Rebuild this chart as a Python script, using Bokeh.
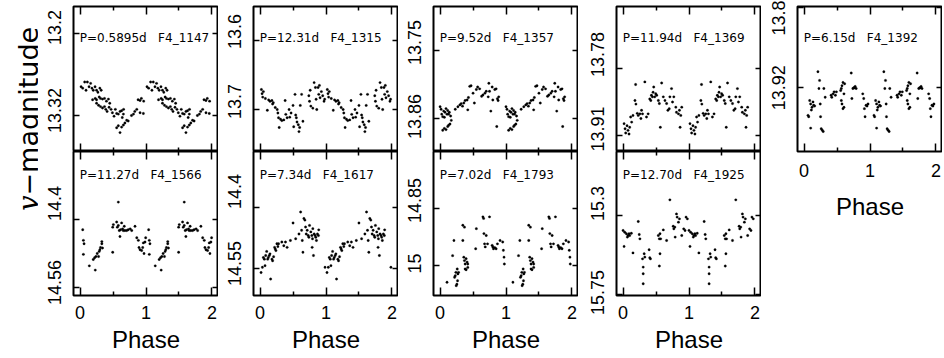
import math
from bokeh.plotting import figure
from bokeh.layouts import row, column
from bokeh.models import (Range1d, FixedTicker, LinearAxis, Label, ColumnDataSource,
                          CustomJSTickFormatter, CustomLabelingPolicy)
from bokeh.core.properties import value
from bokeh.embed import file_html
from bokeh.resources import INLINE

# ------------------------------------------------------------------ data
star_ids = ["F4_1147", "F4_1315", "F4_1357", "F4_1369", "F4_1392",
            "F4_1566", "F4_1617", "F4_1793", "F4_1925"]
periods = ["0.5895d", "12.31d", "9.52d", "11.94d", "6.15d",
           "11.27d", "7.34d", "7.02d", "12.70d"]
y_tick_values = [[13.2, 13.32], [13.6, 13.7], [13.75, 13.86], [13.78, 13.91],
                 [13.8, 13.92], [14.4, 14.56], [14.4, 14.55], [14.85, 15.0],
                 [15.3, 15.75]]
y_tick_labels = [["13.2", "13.32"], ["13.6", "13.7"], ["13.75", "13.86"],
                 ["13.78", "13.91"], ["13.8", "13.92"], ["14.4", "14.56"],
                 ["14.4", "14.55"], ["14.85", "15"], ["15.3", "15.75"]]
x_tick_values = [0, 1, 2]
x_minor_ticks = [0.5, 1.5]
x_title = "Phase"
y_title_symbol = "v"
y_title_rest = "\u2212magnitude"

f4_1147_phase = [0.015, 0.04, 0.07, 0.09, 0.11, 0.136, 0.16, 0.18, 0.20, 0.227, 0.25, 0.27, 0.30, 0.32,
                 0.19, 0.23, 0.25, 0.29, 0.31, 0.34, 0.37, 0.40, 0.43, 0.45,
                 0.25, 0.28, 0.31, 0.34, 0.37, 0.39, 0.41, 0.44, 0.47, 0.49, 0.515, 0.535, 0.555, 0.58, 0.606, 0.63, 0.657, 0.66, 0.64,
                 0.555, 0.58, 0.606, 0.63, 0.657, 0.68, 0.707, 0.73,
                 0.78, 0.81, 0.83, 0.86, 0.88, 0.91, 0.93, 0.91, 0.96, 0.965]
f4_1147_mag = [13.278, 13.280, 13.271, 13.283, 13.271, 13.278, 13.273, 13.280, 13.283, 13.278, 13.283, 13.286, 13.280, 13.283,
               13.297, 13.295, 13.297, 13.293, 13.295, 13.296, 13.295, 13.299, 13.296, 13.302,
               13.302, 13.305, 13.307, 13.309, 13.307, 13.311, 13.314, 13.308, 13.311, 13.316, 13.321, 13.311, 13.317, 13.318, 13.314, 13.313, 13.318, 13.311, 13.323,
               13.338, 13.335, 13.345, 13.337, 13.334, 13.331, 13.327, 13.328,
               13.320, 13.318, 13.314, 13.311, 13.297, 13.298, 13.295, 13.316, 13.317, 13.299]

f4_1315_phase = [0.02, 0.03, 0.04, 0.05, 0.08, 0.11, 0.13, 0.15, 0.18, 0.19, 0.20, 0.23, 0.26, 0.27, 0.28,
                 0.29, 0.31, 0.33, 0.36, 0.38, 0.39, 0.41, 0.44, 0.45, 0.47, 0.50, 0.51, 0.53, 0.54, 0.55,
                 0.56, 0.58, 0.59, 0.60, 0.61, 0.63, 0.65,
                 0.74, 0.75, 0.76, 0.77, 0.80, 0.82, 0.84, 0.85, 0.86, 0.88, 0.89, 0.90, 0.91, 0.93, 0.95, 0.97, 0.98]
f4_1315_mag = [13.671, 13.677, 13.682, 13.674, 13.684, 13.701, 13.686, 13.688, 13.687, 13.692, 13.690, 13.697, 13.700, 13.705, 13.712,
               13.726, 13.714, 13.716, 13.715, 13.687, 13.707, 13.712, 13.700, 13.711, 13.705, 13.694, 13.725, 13.678, 13.708, 13.712,
               13.718, 13.722, 13.732, 13.726, 13.694, 13.678, 13.717,
               13.680, 13.688, 13.672, 13.695, 13.698, 13.661, 13.668, 13.685, 13.700, 13.668, 13.678, 13.665, 13.683, 13.674, 13.680, 13.688, 13.685]

f4_1357_phase = [0.00, 0.015, 0.025, 0.04, 0.055, 0.065, 0.075, 0.09, 0.105, 0.115, 0.13, 0.14, 0.16,
                 0.04, 0.065, 0.09, 0.115, 0.13, 0.15, 0.17,
                 0.23, 0.27, 0.30, 0.32, 0.34, 0.36, 0.38, 0.41, 0.42, 0.43, 0.45, 0.47, 0.50, 0.52, 0.55, 0.57,
                 0.60, 0.63, 0.65, 0.68, 0.70, 0.73, 0.74, 0.75, 0.77, 0.79, 0.80, 0.83, 0.85, 0.86, 0.87, 0.88, 0.89]
f4_1357_mag = [13.841, 13.845, 13.853, 13.857, 13.848, 13.858, 13.850, 13.844, 13.853, 13.847, 13.853, 13.850, 13.856,
               13.879, 13.876, 13.878, 13.873, 13.871, 13.869, 13.863,
               13.845, 13.841, 13.838, 13.836, 13.840, 13.835, 13.831, 13.830, 13.846, 13.826, 13.808, 13.807, 13.819, 13.835, 13.813, 13.809,
               13.812, 13.824, 13.822, 13.819, 13.816, 13.825, 13.803, 13.816, 13.848, 13.809, 13.830, 13.813, 13.812, 13.873, 13.828, 13.831, 13.825]

f4_1369_phase = [0.015, 0.03, 0.04, 0.06, 0.075, 0.09, 0.10, 0.115, 0.13, 0.15, 0.18, 0.19, 0.195, 0.215, 0.23,
                 0.255, 0.27, 0.28, 0.295, 0.33, 0.355, 0.38, 0.405, 0.42, 0.43, 0.445, 0.455, 0.465, 0.48, 0.495,
                 0.51, 0.535, 0.55, 0.565, 0.585, 0.61, 0.635, 0.66, 0.68, 0.70, 0.71, 0.735, 0.75, 0.77, 0.80,
                 0.81, 0.84, 0.855, 0.865, 0.875, 0.89]
f4_1369_mag = [13.887, 13.897, 13.905, 13.891, 13.900, 13.907, 13.894, 13.874, 13.884, 13.871, 13.842, 13.811, 13.849, 13.867, 13.871,
               13.868, 13.877, 13.861, 13.868, 13.806, 13.874, 13.868, 13.839, 13.842, 13.832, 13.835, 13.826, 13.816, 13.835, 13.829,
               13.832, 13.842, 13.848, 13.894, 13.808, 13.835, 13.842, 13.848, 13.861, 13.858, 13.835, 13.819, 13.845, 13.835, 13.855,
               13.865, 13.868, 13.861, 13.894, 13.871, 13.855]

f4_1392_phase = [0.06, 0.07, 0.085, 0.10, 0.11, 0.12, 0.10, 0.135, 0.145, 0.16,
                 0.21, 0.225, 0.235, 0.245, 0.25, 0.26, 0.275, 0.29, 0.30, 0.32,
                 0.41, 0.42, 0.44, 0.455, 0.475, 0.49,
                 0.555, 0.565, 0.575, 0.59, 0.605, 0.565, 0.575, 0.59, 0.605, 0.615,
                 0.715, 0.725, 0.74, 0.755, 0.765, 0.775, 0.79,
                 0.89, 0.905, 0.915, 0.925, 0.94, 0.955, 0.97]
f4_1392_mag = [13.961, 13.963, 13.939, 13.944, 13.953, 13.949, 13.980, 13.941, 13.946, 13.947,
               13.896, 13.921, 13.909, 13.944, 13.963, 13.981, 13.983, 13.985, 13.921, 13.934,
               13.931, 13.934, 13.929, 13.926, 13.931, 13.926,
               13.924, 13.921, 13.917, 13.912, 13.929, 13.939, 13.944, 13.951, 13.949, 13.914,
               13.898, 13.936, 13.921, 13.920, 13.920, 13.918, 13.921,
               13.929, 13.936, 13.951, 13.963, 13.946, 13.947, 13.944]

f4_1566_phase = [0.04, 0.05, 0.06, 0.05, 0.14, 0.20, 0.22, 0.23, 0.24, 0.26, 0.28, 0.29, 0.30, 0.31, 0.33, 0.34, 0.33,
                 0.495, 0.505, 0.495, 0.555, 0.565, 0.58, 0.595, 0.605, 0.615, 0.63, 0.645, 0.655, 0.67, 0.68, 0.707, 0.73, 0.76, 0.783, 0.833,
                 0.58,
                 0.86, 0.884, 0.894, 0.91, 0.934, 0.95, 0.96, 0.97, 0.985, 0.995]
f4_1566_mag = [14.424, 14.449, 14.457, 14.482, 14.509, 14.494, 14.490, 14.519, 14.487, 14.480, 14.487, 14.475, 14.471, 14.466, 14.457, 14.467, 14.452,
               14.418, 14.412, 14.477, 14.406, 14.418, 14.414, 14.426, 14.440, 14.424, 14.408, 14.422, 14.426, 14.416, 14.426, 14.426, 14.424, 14.422, 14.426, 14.416,
               14.359,
               14.443, 14.449, 14.466, 14.471, 14.473, 14.466, 14.455, 14.480, 14.453, 14.443]

f4_1617_phase = [0.015, 0.035, 0.05, 0.065, 0.075, 0.085, 0.10, 0.115, 0.125, 0.14, 0.15, 0.16, 0.18, 0.19, 0.205,
                 0.22, 0.23, 0.24, 0.255, 0.27, 0.28, 0.33, 0.36, 0.385, 0.41, 0.46, 0.50, 0.54, 0.59, 0.615,
                 0.63, 0.64, 0.65, 0.665, 0.68, 0.69, 0.70, 0.715, 0.73, 0.74, 0.75, 0.77, 0.785, 0.795, 0.80,
                 0.82, 0.835, 0.845, 0.855, 0.87, 0.885, 0.89, 0.79, 0.81, 0.985]
f4_1617_mag = [14.560, 14.547, 14.523, 14.527, 14.543, 14.518, 14.508, 14.527, 14.523, 14.518, 14.514, 14.576, 14.527, 14.531, 14.521,
               14.498, 14.502, 14.506, 14.489, 14.496, 14.489, 14.485, 14.494, 14.485, 14.498, 14.481, 14.438, 14.477, 14.465, 14.411,
               14.456, 14.481, 14.510, 14.427, 14.431, 14.448, 14.465, 14.456, 14.469, 14.473, 14.444, 14.460, 14.469, 14.477, 14.452,
               14.465, 14.469, 14.473, 14.481, 14.465, 14.469, 14.455, 14.498, 14.518, 14.547]

f4_1793_phase = [0.105, 0.19, 0.21, 0.22, 0.23, 0.24, 0.245, 0.255, 0.26, 0.27, 0.28, 0.265,
                 0.345, 0.345, 0.37, 0.36, 0.37, 0.38, 0.395, 0.41, 0.42, 0.38, 0.395, 0.42,
                 0.54, 0.55,
                 0.65, 0.66, 0.665, 0.675, 0.685, 0.70, 0.72, 0.75, 0.79, 0.80, 0.81, 0.83, 0.85, 0.87, 0.91, 0.95, 0.96, 0.97, 0.975]
f4_1793_mag = [15.044, 14.974, 14.934, 15.031, 15.027, 15.018, 15.053, 15.049, 15.009, 15.022, 15.018, 15.040,
               14.934, 14.894, 14.899, 14.978, 14.987, 14.996, 14.982, 14.991, 14.996, 15.009, 15.011, 15.005,
               14.956, 14.903,
               14.872, 14.876, 14.916, 14.943, 14.951, 14.921, 14.943, 14.872, 14.947, 14.951, 14.956, 14.953, 14.956, 14.943, 14.934, 14.938, 14.960, 14.978, 14.996]

f4_1925_phase = [0.00, 0.015, 0.025, 0.05, 0.065, 0.075, 0.09, 0.10, 0.125, 0.15,
                 0.23, 0.245, 0.255, 0.295, 0.305, 0.305, 0.305, 0.32, 0.33, 0.395, 0.405, 0.415,
                 0.535, 0.55, 0.56, 0.56, 0.57, 0.55, 0.61, 0.66,
                 0.71, 0.76, 0.77, 0.785, 0.81, 0.82, 0.84, 0.855, 0.79, 0.89, 0.92, 0.955, 0.975, 0.94]
f4_1925_mag = [15.385, 15.476, 15.395, 15.404, 15.423, 15.414, 15.404, 15.414, 15.401, 15.513,
               15.334, 15.408, 15.433, 15.547, 15.594, 15.632, 15.689, 15.518, 15.537, 15.495, 15.541, 15.547,
               15.414, 15.433, 15.404, 15.518, 15.433, 15.588, 15.382, 15.442,
               15.211, 15.361, 15.376, 15.366, 15.291, 15.309, 15.338, 15.319, 15.423, 15.414, 15.376, 15.309, 15.319, 15.385]

light_curves = [(f4_1147_phase, f4_1147_mag), (f4_1315_phase, f4_1315_mag), (f4_1357_phase, f4_1357_mag),
                (f4_1369_phase, f4_1369_mag), (f4_1392_phase, f4_1392_mag), (f4_1566_phase, f4_1566_mag),
                (f4_1617_phase, f4_1617_mag), (f4_1793_phase, f4_1793_mag), (f4_1925_phase, f4_1925_mag)]

# ------------------------------------------------------------------ layout / style (not data)
FRAME_W = 145
TOP_PAD = 6
ROW1_H = 145
ROW2_H = 144
ROW2_BOTTOM = 62
TOTAL_H = TOP_PAD + ROW1_H + ROW2_H + ROW2_BOTTOM
YLAB_W = 38
X_VIEW = (-0.1, 2.1)
# visible magnitude window per panel: (bottom, top) -> inverted axes
y_views = [(13.3727, 13.1605), (13.7608, 13.5507), (13.9134, 13.6788), (13.9410, 13.6597),
           (14.0148, 13.7990), (14.5788, 14.2400), (14.6164, 14.2623), (15.0789, 14.7000),
           (15.7556, 14.9355)]
# the original's rotated tick labels sit slightly above their ticks (pixels, upward)
label_lift_px = [[6, 5], [9, 8], [8, 2], [14, 5], [0, 0], [16, 5], [16, 5], [8, 2], [12, 2]]
TICK_FONT = "Liberation Sans"
TEXT_FONT = "DejaVu Sans"

NO_LABELS = CustomLabelingPolicy(code="""
    const all = Array.from(indices);
    for (const i of all) { indices.unset(i); }
    return indices;
""")


def tick_only_axis(ticker, major_in, minor_in=0):
    return LinearAxis(ticker=ticker, axis_line_color=None,
                      major_tick_in=major_in, major_tick_out=0,
                      minor_tick_in=minor_in, minor_tick_out=0,
                      major_tick_line_color="black", minor_tick_line_color="black",
                      major_tick_line_width=1.5, minor_tick_line_width=1.5,
                      major_label_policy=NO_LABELS,
                      major_label_text_font_size="0px", major_label_standoff=0)


def make_panel(idx, border_left, border_top, frame_h, border_bottom, x_labels, text_offset,
               xlab_standoff=10, phase_standoff=4):
    bottom, top = y_views[idx]
    px_per_mag = frame_h / (bottom - top)
    p = figure(frame_width=FRAME_W, frame_height=frame_h,
               x_range=Range1d(*X_VIEW), y_range=Range1d(bottom, top),
               x_axis_type=None, y_axis_type=None,
               output_backend="svg", toolbar_location=None,
               min_border_left=border_left, min_border_right=0,
               min_border_top=border_top, min_border_bottom=border_bottom)
    p.outline_line_color = "black"
    p.outline_line_width = 2
    p.background_fill_color = "white"
    p.border_fill_color = "white"

    xt = FixedTicker(ticks=x_tick_values, minor_ticks=x_minor_ticks)
    yt = FixedTicker(ticks=y_tick_values[idx])

    # tick marks on the left (no labels), closest to the frame
    p.add_layout(tick_only_axis(yt, 6), "left")

    # labels only, placed where the original draws them
    label_pos = [v - lift / px_per_mag for v, lift in zip(y_tick_values[idx], label_lift_px[idx])]
    lt = FixedTicker(ticks=label_pos)
    fmt = CustomJSTickFormatter(args=dict(vals=label_pos, labs=y_tick_labels[idx]), code="""
        let best = 0;
        for (let i = 1; i < vals.length; i++) {
            if (Math.abs(vals[i] - tick) < Math.abs(vals[best] - tick)) best = i;
        }
        return labs[best];
    """)
    yl = LinearAxis(ticker=lt, formatter=fmt, axis_line_color=None,
                    major_tick_in=0, major_tick_out=0, minor_tick_in=0, minor_tick_out=0,
                    major_tick_line_color=None, minor_tick_line_color=None,
                    major_label_orientation="vertical", major_label_standoff=12,
                    major_label_text_font=TICK_FONT, major_label_text_font_size="18px",
                    major_label_text_color="black")
    p.add_layout(yl, "left")
    p.add_layout(tick_only_axis(yt, 6), "right")
    p.add_layout(tick_only_axis(xt, 8, 4), "above")

    if x_labels:
        xb = LinearAxis(ticker=xt, axis_line_color=None,
                        major_tick_in=8, major_tick_out=0, minor_tick_in=4, minor_tick_out=0,
                        major_tick_line_color="black", minor_tick_line_color="black",
                        major_tick_line_width=1.5, minor_tick_line_width=1.5,
                        major_label_standoff=xlab_standoff,
                        major_label_text_font=TICK_FONT, major_label_text_font_size="18px",
                        major_label_text_color="black",
                        axis_label=x_title, axis_label_standoff=phase_standoff,
                        axis_label_text_font=TICK_FONT, axis_label_text_font_size="24px",
                        axis_label_text_font_style="normal", axis_label_text_color="black")
        p.add_layout(xb, "below")
    else:
        p.add_layout(tick_only_axis(xt, 8, 4), "below")

    phase, mag = light_curves[idx]
    src = ColumnDataSource(data=dict(x=list(phase) + [v + 1 for v in phase],
                                     y=list(mag) + list(mag)))
    p.scatter(x="x", y="y", source=src, marker="circle", size=2.4,
              fill_color="black", line_color="black", line_width=0.3)

    p.add_layout(Label(x=-0.005, y=top + text_offset / px_per_mag,
                       text="P=" + periods[idx] + "\u00a0\u00a0\u00a0" + star_ids[idx],
                       text_font=TEXT_FONT, text_font_size="12px", text_color="black",
                       text_align="left", text_baseline="alphabetic"))
    return p


p1 = make_panel(0, 35, TOP_PAD, ROW1_H, 0, False, 31)
p2 = make_panel(1, 35, TOP_PAD, ROW1_H, 0, False, 31)
p3 = make_panel(2, 35, TOP_PAD, ROW1_H, 0, False, 31)
p4 = make_panel(3, 38, TOP_PAD, ROW1_H, 0, False, 31)
p5 = make_panel(4, 36, TOP_PAD, ROW1_H, TOTAL_H - TOP_PAD - ROW1_H, True, 31,
                xlab_standoff=12, phase_standoff=13)
p6 = make_panel(5, 35, 0, ROW2_H, ROW2_BOTTOM, True, 23)
p7 = make_panel(6, 35, 0, ROW2_H, ROW2_BOTTOM, True, 23)
p8 = make_panel(7, 35, 0, ROW2_H, ROW2_BOTTOM, True, 23)
p9 = make_panel(8, 38, 0, ROW2_H, ROW2_BOTTOM, True, 23)

# y-axis title, spanning both rows (data units == pixels here)
ylab = figure(frame_width=YLAB_W, frame_height=TOTAL_H,
              x_range=Range1d(0, YLAB_W), y_range=Range1d(0, TOTAL_H),
              x_axis_type=None, y_axis_type=None, output_backend="svg", toolbar_location=None,
              min_border_left=0, min_border_right=0, min_border_top=0, min_border_bottom=0,
              outline_line_color=None)
split_y = TOTAL_H - 189
title_x = 28
ylab.text(x=[title_x], y=[split_y], text=[y_title_symbol], angle=math.pi / 2,
          text_font=value("DejaVu Serif"), text_font_style="italic", text_font_size="27px",
          text_align="right", text_baseline="alphabetic", text_color="black")
ylab.text(x=[title_x], y=[split_y], text=[y_title_rest], angle=math.pi / 2,
          text_font=value(TEXT_FONT), text_font_size="27px",
          text_align="left", text_baseline="alphabetic", text_color="black")

grid = column(row(p1, p2, p3, p4), row(p6, p7, p8, p9))
layout = row(ylab, grid, p5)

open("out.html", "w").write(file_html(layout, INLINE))
